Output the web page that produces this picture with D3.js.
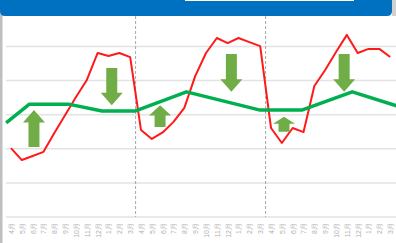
<!DOCTYPE html>
<html>
<head>
<meta charset="utf-8">
<script src="https://cdn.jsdelivr.net/npm/d3@7"></script>
<style>
  body { margin: 0; background: #fff; }
  #canvas { width: 396px; height: 243px; position: relative; overflow: hidden; }
  svg { display: block; font-family: "Noto Sans CJK JP", "Noto Sans", sans-serif; }
</style>
</head>
<body>
<div id="canvas" class="canvas"></div>
<script>
// month labels, april -> march, three fiscal years
var months = ['4月','5月','6月','7月','8月','9月','10月','11月','12月','1月','2月','3月',
              '4月','5月','6月','7月','8月','9月','10月','11月','12月','1月','2月','3月',
              '4月','5月','6月','7月','8月','9月','10月','11月','12月','1月','2月','3月'];

// red series (one value per month)
var redValues = [20.2,16.7,17.9,19.1,24.6,29.9,35.2,40.2,48.1,47.2,48.1,46.9,
                 25.5,22.9,24.8,27.9,32.0,41.3,48.1,52.5,51.0,52.5,51.3,50.1,
                 26.1,21.7,26.1,24.9,38.4,43.1,48.4,53.4,48.1,49.3,49.3,46.9];

// green trend line (month index, value)
var greenIdx = [-0.45,1.7,5.3,8.4,11.5,16.2,22.9,26.9,31.5,35.6];
var greenValues = [27.6,33.1,33.1,31.1,31.1,36.7,31.4,31.4,36.7,32.6];

// arrows: centre month, start value, tip value
var arrowIdx = [2.12,9.3,13.76,20.34,25.2,30.75];
var arrowFrom = [20.5,43.7,26.4,47.8,25.0,47.8];
var arrowTo = [31.4,32.8,32.8,36.7,29.4,36.7];

// fiscal year breaks and y gridlines
var yearBreaks = [11.5,23.5];
var yTicks = [0,10,20,30,40,50,60];

var W = 396, H = 243;
var svg = d3.select('.canvas').append('svg').attr('width',W).attr('height',H);

var scaleX = d3.scaleLinear().domain([0,35]).range([11,390.2]);
var scaleY = d3.scaleLinear().domain([0,60]).range([217,12.4]);

// gridlines
svg.append('g')
    .selectAll('line')
    .data(yTicks)
    .enter().append('line')
    .attr('x1',6).attr('x2',W)
    .attr('y1',function(d){return scaleY(d);})
    .attr('y2',function(d){return scaleY(d);})
    .style('stroke','#e3e3e3')
    .style('stroke-width',1.5);

// x axis labels
var axisX = d3.axisBottom(scaleX)
    .tickValues(d3.range(months.length))
    .tickFormat(function(d){return months[d];})
    .tickSize(0);
var gx = svg.append('g').attr('class','axis axis-x')
    .attr('transform','translate(0,217)')
    .call(axisX);
gx.select('.domain').remove();
gx.selectAll('text')
    .attr('transform','rotate(-90)')
    .attr('x',-6).attr('y',0).attr('dy','0.35em')
    .style('text-anchor','end')
    .style('font-size','7px')
    .style('fill','#b0b0b0');

// dashed year separators
svg.append('g')
    .selectAll('line')
    .data(yearBreaks)
    .enter().append('line')
    .attr('x1',function(d){return scaleX(d);})
    .attr('x2',function(d){return scaleX(d);})
    .attr('y1',16).attr('y2',217)
    .style('stroke','#a6a6a6')
    .style('stroke-width',1)
    .style('stroke-dasharray','3,2');

// red line
var redLine = d3.line()
    .x(function(d,i){return scaleX(i);})
    .y(function(d){return scaleY(d);});
svg.append('path')
    .datum(redValues)
    .attr('d',redLine)
    .style('fill','none')
    .style('stroke','#ff1a1a')
    .style('stroke-width',2)
    .style('stroke-linejoin','round');

// green line
var greenLine = d3.line()
    .x(function(d){return scaleX(d[0]);})
    .y(function(d){return scaleY(d[1]);});
svg.append('path')
    .datum(d3.zip(greenIdx,greenValues))
    .attr('d',greenLine)
    .style('fill','none')
    .style('stroke','#00b050')
    .style('stroke-width',3.5)
    .style('stroke-linejoin','round');

// block arrows
function arrowPath(d){
    var cx = scaleX(d[0]), y0 = scaleY(d[1]), y1 = scaleY(d[2]);
    var len = Math.abs(y1 - y0), dir = y1 < y0 ? -1 : 1;
    var head = Math.min(12.5, len*0.47);
    var hw = 11, sw = 5.5;
    var yb = y1 - dir*head;
    return 'M'+(cx-sw)+','+y0+'L'+(cx-sw)+','+yb+'L'+(cx-hw)+','+yb+'L'+cx+','+y1+
           'L'+(cx+hw)+','+yb+'L'+(cx+sw)+','+yb+'L'+(cx+sw)+','+y0+'Z';
}
svg.append('g')
    .selectAll('path')
    .data(d3.zip(arrowIdx,arrowFrom,arrowTo))
    .enter().append('path')
    .attr('d',arrowPath)
    .style('fill','#70ad47');

// frame: left border and blue header
svg.append('rect').attr('x',0).attr('y',0).attr('width',2.5).attr('height',H).style('fill','#bfbfbf');
svg.append('rect').attr('x',392).attr('y',0).attr('width',4).attr('height',16).style('fill','#d0d0d0');
svg.append('path')
    .attr('d','M0,0H392V11Q392,16 387,16H5Q0,16 0,11Z')
    .style('fill','#0070c0');
svg.append('rect').attr('x',185).attr('y',0).attr('width',169).attr('height',1).style('fill','#ffffff');
</script>
</body>
</html>
